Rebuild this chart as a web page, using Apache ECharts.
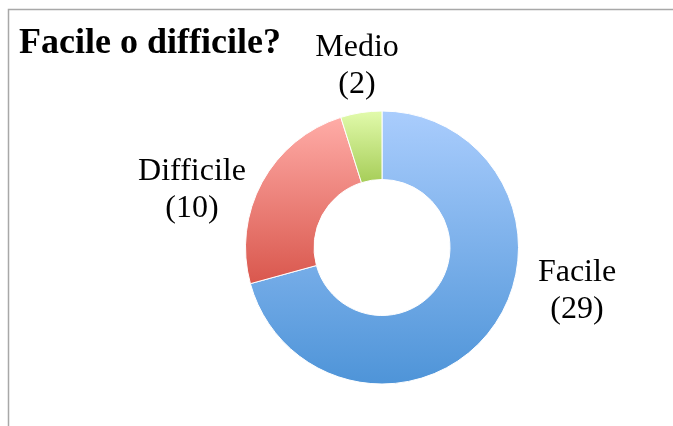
<!DOCTYPE html>
<html>
<head>
<meta charset="utf-8">
<title>Facile o difficile?</title>
<script src="https://cdn.jsdelivr.net/npm/echarts@6/dist/echarts.min.js"></script>
<style>
  html, body { margin: 0; padding: 0; background: #ffffff; }
  #chart { width: 673px; height: 426px; }
</style>
</head>
<body>
<div id="chart"></div>
<script>
// Survey answers: how hard was it?
const categories = ['Facile', 'Difficile', 'Medio'];
const counts = [29, 10, 2];

// Top/bottom colours of each slice's vertical gradient
const sliceColors = [
  ['#aacdfd', '#4e94d8'],
  ['#ffaca7', '#d9574d'],
  ['#e2fbac', '#a6cd58']
];

// Where each two-line label sits (text block centre)
const labelSpots = [
  [577, 291],
  [192, 190],
  [357, 66]
];

const serif = '"Liberation Serif", "DejaVu Serif", serif';

const chart = echarts.init(document.getElementById('chart'), null, { renderer: 'canvas' });

chart.setOption({
  animation: false,
  backgroundColor: '#ffffff',
  title: {
    text: 'Facile o difficile?',
    left: 14,
    top: 21,
    textStyle: {
      fontFamily: serif,
      fontWeight: 'bold',
      fontSize: 36,
      color: '#000000'
    }
  },
  graphic: [{
    type: 'rect',
    z: -1,
    shape: { x: 8.5, y: 9.5, width: 720, height: 480 },
    style: { fill: 'none', stroke: '#a8a8a8', lineWidth: 1.5 }
  }],
  series: [{
    type: 'pie',
    center: [382, 247.5],
    radius: [68, 136.5],
    startAngle: 90,
    clockwise: true,
    avoidLabelOverlap: false,
    itemStyle: { borderColor: '#ffffff', borderWidth: 1 },
    label: {
      show: true,
      position: 'outside',
      formatter: '{b}\n({c})',
      fontFamily: serif,
      fontSize: 32,
      lineHeight: 37,
      color: '#000000',
      align: 'center'
    },
    labelLine: { show: false },
    labelLayout: function (params) {
      const p = labelSpots[params.dataIndex];
      return { x: p[0], y: p[1], align: 'center', verticalAlign: 'middle' };
    },
    data: categories.map(function (name, i) {
      return {
        name: name,
        value: counts[i],
        itemStyle: {
          color: new echarts.graphic.LinearGradient(0, 0, 0, 1, [
            { offset: 0, color: sliceColors[i][0] },
            { offset: 1, color: sliceColors[i][1] }
          ])
        }
      };
    })
  }]
});
</script>
</body>
</html>
